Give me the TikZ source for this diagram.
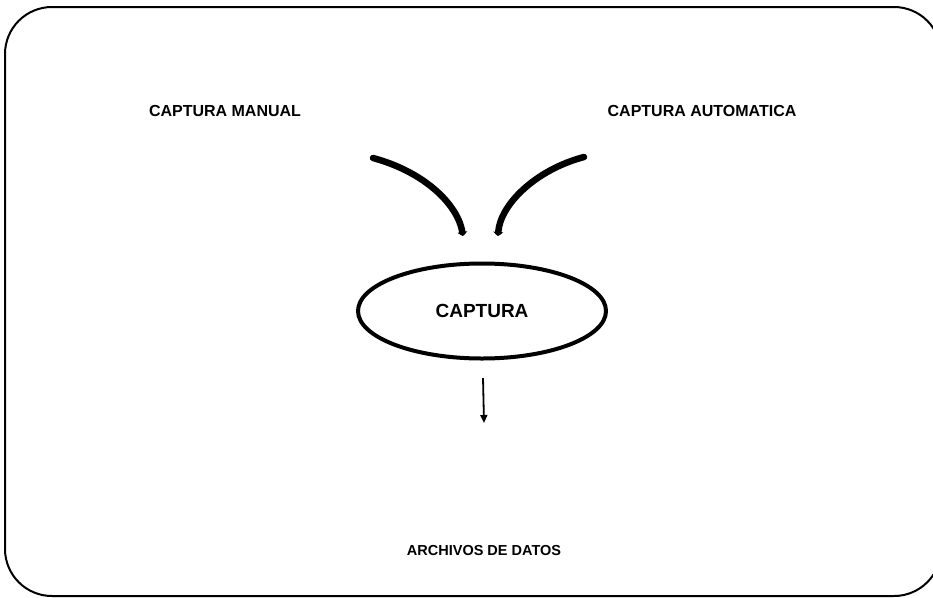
\documentclass[tikz,border=0pt]{standalone}
\usepackage{fontspec}
\setmainfont{Liberation Sans}
\usetikzlibrary{shapes.geometric,arrows.meta}

\tikzset{
  label text/.style={font=\bfseries\fontsize{16}{18}\selectfont, inner sep=0pt, anchor=center},
  feed/.style={line width=6.5pt, line cap=round, -{Triangle[length=4pt,width=10pt]}},
  outflow/.style={line width=1.8pt, -{Triangle[length=8pt,width=7pt]}},
  procbox/.style={ellipse, draw, line width=4pt, minimum width=248pt, minimum height=95pt,
    inner sep=0pt, font=\bfseries\fontsize{19}{22}\selectfont},
}

\begin{document}
\begin{tikzpicture}[x=1pt, y=-1pt]
  \useasboundingbox (0,0) rectangle (933,597);

  % rounded outer frame, running past the right edge of the page
  \begin{scope}
    \clip (0,0) rectangle (933,597);
    \draw[line width=2pt, rounded corners=47pt] (5,7) rectangle (941,596);
  \end{scope}

  % source labels
  \node[label text] (manual) at (225,111) {CAPTURA MANUAL};
  \node[label text] (auto) at (702,111) {CAPTURA AUTOMATICA};

  % central process
  \node[procbox] (captura) at (482,311) {CAPTURA};

  % destination
  \node[label text, font=\bfseries\fontsize{14.5}{17}\selectfont] (archivos) at (484,550) {ARCHIVOS DE DATOS};

  % curved feeds into the process
  \coordinate (lstart) at (373,158);
  \coordinate (lend) at (463,236);
  \coordinate (rstart) at (584,157);
  \coordinate (rend) at (498,236);
  \draw[feed] (lstart) .. controls (425,172) and (458,205) .. (lend);
  \draw[feed] (rstart) .. controls (535,170) and (500,205) .. (rend);

  % output arrow
  \coordinate (otop) at (483,378);
  \coordinate (obot) at (484,423);
  \draw[outflow] (otop) -- (obot);
\end{tikzpicture}
\end{document}
